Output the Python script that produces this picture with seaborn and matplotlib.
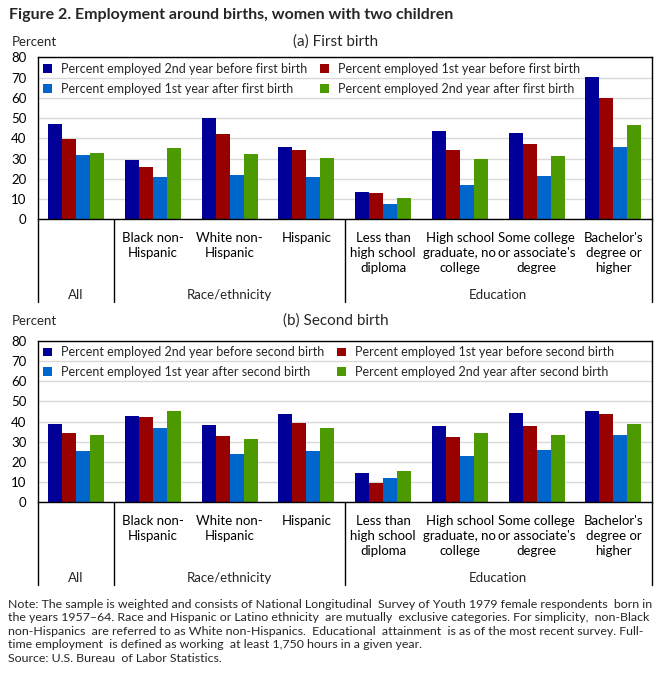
import numpy as np
import pandas as pd
import matplotlib
matplotlib.use("Agg")
import matplotlib.pyplot as plt
import seaborn as sns
from matplotlib.transforms import blended_transform_factory

# ---------------- data ----------------
categories = ["All", "Black non-\nHispanic", "White non-\nHispanic", "Hispanic",
              "Less than\nhigh school\ndiploma", "High school\ngraduate, no\ncollege",
              "Some college\nor associate's\ndegree", "Bachelor's\ndegree or\nhigher"]
group_names = ["All", "Race/ethnicity", "Education"]
group_first = [0, 1, 4]
group_last = [0, 3, 7]

series_first = ["Percent employed 2nd year before first birth",
                "Percent employed 1st year before first birth",
                "Percent employed 1st year after first birth",
                "Percent employed 2nd year after first birth"]
series_second = ["Percent employed 2nd year before second birth",
                 "Percent employed 1st year before second birth",
                 "Percent employed 1st year after second birth",
                 "Percent employed 2nd year after second birth"]

first_2nd_before = [47.2, 29.5, 50.2, 35.5, 13.5, 43.4, 42.7, 70.1]
first_1st_before = [39.9, 25.6, 41.9, 34.0, 13.0, 34.0, 37.3, 60.1]
first_1st_after = [31.8, 21.1, 22.1, 21.1, 7.8, 16.7, 21.6, 35.5]
first_2nd_after = [32.8, 35.0, 32.3, 30.5, 10.6, 30.0, 31.5, 46.4]

second_2nd_before = [38.9, 42.8, 38.4, 43.8, 14.7, 38.0, 44.4, 45.4]
second_1st_before = [34.5, 42.3, 33.0, 39.4, 9.7, 32.5, 38.0, 43.9]
second_1st_after = [25.6, 37.0, 24.1, 25.6, 12.2, 23.1, 26.1, 33.5]
second_2nd_after = [33.5, 45.4, 31.5, 36.6, 15.7, 34.5, 33.5, 38.9]

colors = ["#000099", "#990000", "#0066CC", "#4C9900"]

title = "Figure 2. Employment around births, women with two children"
panel_titles = ["(a) First birth", "(b) Second birth"]
note = ("Note: The sample is weighted and consists of National Longitudinal  Survey of Youth 1979 female respondents  born in\n"
        "the years 1957\u201364. Race and Hispanic or Latino ethnicity  are mutually  exclusive categories. For simplicity,  non-Black\n"
        "non-Hispanics  are referred to as White non-Hispanics.  Educational  attainment  is as of the most recent survey. Full-\n"
        "time employment  is defined as working  at least 1,750 hours in a given year.\n"
        "Source: U.S. Bureau  of Labor Statistics.")

# ---------------- style ----------------
sns.set_theme(style="white")
FONT = ["Lato", "DejaVu Sans"]
plt.rcParams["font.family"] = FONT

W, H = 671, 683
fig = plt.figure(figsize=(W / 100, H / 100), dpi=100)


def px_axes(left, top, right, bottom):
    return fig.add_axes([left / W, 1 - bottom / H, (right - left) / W, (bottom - top) / H])


def draw_panel(ax, series, values, ptitle, ytext):
    df = pd.DataFrame({
        "Category": [c for c in categories for _ in series],
        "Series": [s for _ in categories for s in series],
        "Percent": [values[j][i] for i in range(len(categories)) for j in range(len(series))],
    })
    sns.barplot(data=df, x="Category", y="Percent", hue="Series", order=categories,
                hue_order=series, palette=colors, saturation=1, width=0.73,
                linewidth=0, errorbar=None, ax=ax)
    ax.set_xlim(-0.5, len(categories) - 0.5)
    ax.set_ylim(0, 80)
    ax.set_yticks(range(0, 81, 10))
    ax.set_xlabel("")
    ax.set_ylabel("")
    # the "All" column is named by its group label only
    ax.set_xticks(range(len(categories)))
    ax.set_xticklabels(["" if c in group_names else c for c in categories])
    ax.yaxis.grid(True, color="#d9d9d9", lw=1)
    ax.xaxis.grid(False)
    ax.set_axisbelow(True)
    for sp in ax.spines.values():
        sp.set_color("black")
        sp.set_linewidth(1)
    ax.tick_params(axis="y", length=0, pad=8, labelsize=9.5, labelcolor="black")
    ax.tick_params(axis="x", length=0, pad=9, labelsize=9.5, labelcolor="black")
    for lab in ax.get_xticklabels():
        lab.set_multialignment("center")
        lab.set_linespacing(1.32)

    h, l = ax.get_legend_handles_labels()
    order = [0, 2, 1, 3]
    ax.legend([h[i] for i in order], [l[i] for i in order], ncol=2, loc="upper left",
              bbox_to_anchor=(0.0, 1.0), frameon=False, handlelength=0.7, handleheight=0.7,
              handletextpad=0.75, columnspacing=1.0, labelspacing=0.62, fontsize=9,
              borderaxespad=0.2, borderpad=0.25)

    tr = blended_transform_factory(ax.transData, ax.transAxes)
    sep = [-0.5, 0.5, 3.5, len(categories) - 0.5]
    for x in sep:
        ax.plot([x, x], [0, -0.51], transform=tr, color="black", lw=1, clip_on=False)
    for name, a, b in zip(group_names, group_first, group_last):
        ax.text((a + b) / 2, -0.467, name, transform=tr, ha="center", va="center",
                fontsize=9.5)

    fig.text(12 / W, 1 - ytext / H, "Percent", ha="left", va="center", fontsize=9.5)
    fig.text(336 / W, 1 - ytext / H, ptitle, ha="center", va="center", fontsize=11)


ax1 = px_axes(37.7, 57.3, 651.7, 219.3)
draw_panel(ax1, series_first, [first_2nd_before, first_1st_before, first_1st_after, first_2nd_after],
           panel_titles[0], 42)
ax2 = px_axes(37.7, 340.7, 651.7, 502.3)
draw_panel(ax2, series_second, [second_2nd_before, second_1st_before, second_1st_after, second_2nd_after],
           panel_titles[1], 321)

fig.text(9 / W, 1 - 15 / H, title, ha="left", va="center", fontsize=11.5, fontweight="bold")
fig.text(8 / W, 1 - 599 / H, note, ha="left", va="top", fontsize=8.9, linespacing=1.27)

fig.savefig("out.png", dpi=100)
